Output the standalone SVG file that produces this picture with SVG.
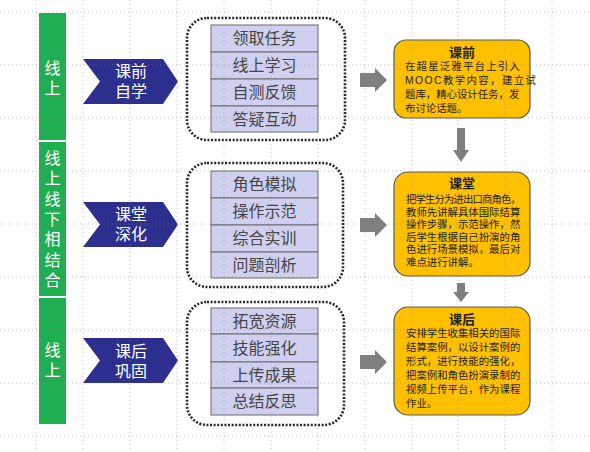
<svg xmlns="http://www.w3.org/2000/svg" width="590" height="452" viewBox="0 0 590 452">
<defs>
<style>
.grid{stroke:#8a8a8a;stroke-width:1;stroke-dasharray:1 3;opacity:0.5;fill:none}
.bar{fill:#1fae52}
.bartxt{fill:#ffffff;font-family:"Noto Sans CJK SC",sans-serif;font-size:16px;writing-mode:vertical-rl;letter-spacing:4px}
.chev{fill:#2d2f8e}
.chevtxt{fill:#ffffff;font-family:"Liberation Sans","Noto Sans CJK SC",sans-serif;font-size:16px;text-anchor:middle}
.dotbox{fill:none;stroke:#2a2a2a;stroke-width:2.6;stroke-dasharray:2 1.6}
.row{fill:#cfd0ef;stroke:#6a6a6a;stroke-width:1}
.rowtxt{fill:#454545;font-family:"Noto Sans CJK SC",sans-serif;font-size:16px;text-anchor:middle}
.gray{fill:#7f7f7f}
.orange{fill:#ffc000;stroke:#5a5a5a;stroke-width:1.2}
.otitle{font-size:13px;font-weight:bold}
.obody{fill:#222;font-family:"Liberation Sans","Noto Sans CJK SC",sans-serif;font-size:10.4px}
</style>
</defs>
<rect width="590" height="452" fill="#ffffff"/>

<g id="bar">
<rect class="bar" x="39" y="13" width="27" height="127"/>
<rect class="bar" x="39" y="142" width="27" height="154"/>
<rect class="bar" x="39" y="298" width="27" height="126"/>
<text class="bartxt" x="52.5" y="60">线上</text>
<text class="bartxt" x="52.5" y="150" style="letter-spacing:4.3px">线上线下相结合</text>
<text class="bartxt" x="52.5" y="342">线上</text>
</g>

<g id="chev1">
<polygon class="chev" points="83,59 163,59 178,81.5 163,104 83,104 100,81.5"/>
<text class="chevtxt"><tspan x="131" y="77">课前</tspan><tspan x="131" y="97">自学</tspan></text>
</g>
<g id="chev2">
<polygon class="chev" points="83,202 163,202 178,224.5 163,247 83,247 100,224.5"/>
<text class="chevtxt"><tspan x="131" y="220">课堂</tspan><tspan x="131" y="240">深化</tspan></text>
</g>
<g id="chev3">
<polygon class="chev" points="83,338 163,338 178,360.5 163,383 83,383 100,360.5"/>
<text class="chevtxt"><tspan x="131" y="357">课后</tspan><tspan x="131" y="377">巩固</tspan></text>
</g>

<g id="list1">
<rect class="dotbox" x="187" y="18" width="158" height="122" rx="20"/>
<rect class="row" x="211" y="25" width="107" height="27"/>
<rect class="row" x="211" y="52" width="107" height="27"/>
<rect class="row" x="211" y="79" width="107" height="27"/>
<rect class="row" x="211" y="106" width="107" height="26"/>
<text class="rowtxt" x="264.5" y="44">领取任务</text>
<text class="rowtxt" x="264.5" y="71">线上学习</text>
<text class="rowtxt" x="264.5" y="98">自测反馈</text>
<text class="rowtxt" x="264.5" y="125">答疑互动</text>
</g>
<g id="list2">
<rect class="dotbox" x="187" y="163" width="156" height="124" rx="20"/>
<rect class="row" x="211" y="171" width="107" height="27"/>
<rect class="row" x="211" y="198" width="107" height="27"/>
<rect class="row" x="211" y="225" width="107" height="27"/>
<rect class="row" x="211" y="252" width="107" height="26"/>
<text class="rowtxt" x="264.5" y="190">角色模拟</text>
<text class="rowtxt" x="264.5" y="217">操作示范</text>
<text class="rowtxt" x="264.5" y="244">综合实训</text>
<text class="rowtxt" x="264.5" y="271">问题剖析</text>
</g>
<g id="list3">
<rect class="dotbox" x="187" y="302" width="157" height="123" rx="20"/>
<rect class="row" x="211" y="308" width="107" height="26"/>
<rect class="row" x="211" y="334" width="107" height="28"/>
<rect class="row" x="211" y="362" width="107" height="26"/>
<rect class="row" x="211" y="388" width="107" height="27"/>
<text class="rowtxt" x="264.5" y="327">拓宽资源</text>
<text class="rowtxt" x="264.5" y="354">技能强化</text>
<text class="rowtxt" x="264.5" y="381">上传成果</text>
<text class="rowtxt" x="264.5" y="407">总结反思</text>
</g>

<g id="box1">
<rect class="orange" x="394" y="40" width="136" height="78" rx="12"/>
<text class="obody"><tspan class="otitle" x="449" y="57">课前</tspan><tspan x="405" y="70" style="letter-spacing:1.2px">在超星泛雅平台上引入</tspan><tspan x="405" y="84" style="letter-spacing:1.4px">MOOC教学内容，建立试</tspan><tspan x="405" y="98">题库，精心设计任务，发</tspan><tspan x="405" y="112">布讨论话题。</tspan></text>
</g>
<g id="box2">
<rect class="orange" x="394" y="172" width="136" height="104" rx="14"/>
<text class="obody"><tspan class="otitle" x="449" y="188">课堂</tspan><tspan x="406" y="203" style="letter-spacing:-0.9px">把学生分为进出口商角色，</tspan><tspan x="406" y="215.5">教师先讲解具体国际结算</tspan><tspan x="406" y="228">操作步骤，示范操作，然</tspan><tspan x="406" y="240.5">后学生根据自己扮演的角</tspan><tspan x="406" y="253">色进行场景模拟，最后对</tspan><tspan x="406" y="265.5">难点进行讲解。</tspan></text>
</g>
<g id="box3">
<rect class="orange" x="394" y="307" width="136" height="108" rx="14"/>
<text class="obody"><tspan class="otitle" x="449" y="324">课后</tspan><tspan x="406" y="337">安排学生收集相关的国际</tspan><tspan x="406" y="351">结算案例，以设计案例的</tspan><tspan x="406" y="365">形式，进行技能的强化，</tspan><tspan x="406" y="379">把案例和角色扮演录制的</tspan><tspan x="406" y="393">视频上传平台，作为课程</tspan><tspan x="406" y="407">作业。</tspan></text>
</g>

<g id="connectors">
<polygon class="gray" points="360,73 375,73 375,68 387,80 375,92 375,87 360,87"/>
<polygon class="gray" points="360,218 375,218 375,213 387,225 375,237 375,232 360,232"/>
<polygon class="gray" points="360,355 375,355 375,350 387,362 375,374 375,369 360,369"/>
<polygon class="gray" points="457,128 465,128 465,150 469,150 461,162 453,150 457,150"/>
<polygon class="gray" points="457,283 465,283 465,292 469,292 461,302 453,292 457,292"/>
</g>

<g id="grid">
<path class="grid" d="M0 12H590M0 65H590M0 118H590M0 171H590M0 224H590M0 277H590M0 330H590M0 383H590M0 436H590"/>
<path class="grid" d="M36 0V452M83 0V452M130 0V452M177 0V452M224 0V452M271 0V452M318 0V452M365 0V452M412 0V452M458 0V452M505 0V452M552 0V452"/>
</g>
</svg>
